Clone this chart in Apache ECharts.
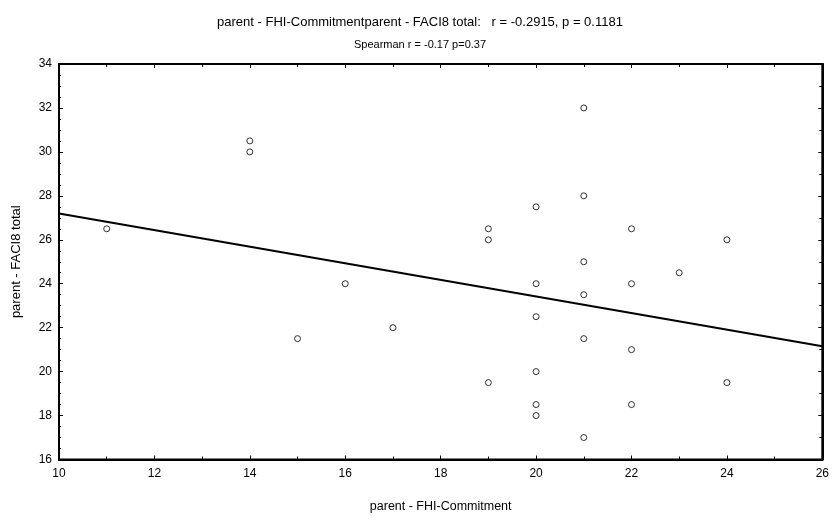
<!DOCTYPE html>
<html>
<head>
<meta charset="utf-8">
<script src="https://cdn.jsdelivr.net/npm/echarts@6/dist/echarts.min.js"></script>
<style>html,body{margin:0;padding:0;background:#fff}#c{width:832px;height:520px}</style>
</head>
<body>
<div id="c"></div>
<script>
const xValues = [11,14,14,15,16,17,19,19,19,20,20,20,20,20,20,21,21,21,21,21,21,22,22,22,22,23,24,24];
const yValues = [26.5,30.5,30,21.5,24,22,26.5,26,19.5,27.5,24,22.5,20,18.5,18,32,28,25,23.5,21.5,17,26.5,24,21,18.5,24.5,26,19.5];
const fitX = [10, 26];
const fitY = [27.2, 21.15];
const titleLine1 = 'parent - FHI-Commitmentparent - FACI8 total:   r = -0.2915, p = 0.1181';
const titleLine2 = 'Spearman r = -0.17 p=0.37';
const xName = 'parent - FHI-Commitment';
const yName = 'parent - FACI8 total';

const font = 'Liberation Sans, Arial, sans-serif';
const chart = echarts.init(document.getElementById('c'), null, {renderer: 'canvas'});
const pts = xValues.map((x, i) => [x, yValues[i]]);
const fit = fitX.map((x, i) => [x, fitY[i]]);
const axisLineStyle = {color: '#000', width: 2};
chart.setOption({
  animation: false,
  backgroundColor: '#fff',
  title: [
    {text: titleLine1, left: 415, top: 11, textAlign: 'center',
     textStyle: {fontFamily: font, fontSize: 13, fontWeight: 'normal', color: '#000'}},
    {text: titleLine2, left: 415, top: 34, textAlign: 'center',
     textStyle: {fontFamily: font, fontSize: 11, fontWeight: 'normal', color: '#000'}}
  ],
  grid: {left: 59, right: 7, top: 64, bottom: 60.5, show: true, borderColor: '#000', borderWidth: 2, containLabel: false},
  xAxis: [{
    type: 'value', min: 10, max: 26, interval: 2,
    name: xName, nameLocation: 'middle', nameGap: 41,
    nameTextStyle: {fontFamily: font, fontSize: 12.5, color: '#000'},
    axisLine: {show: true, lineStyle: axisLineStyle},
    axisTick: {show: true, inside: true, length: 4, lineStyle: {color: '#000'}},
    minorTick: {show: true, splitNumber: 2, length: 3, lineStyle: {color: '#000'}},
    axisLabel: {fontFamily: font, fontSize: 12, color: '#000', margin: 8},
    splitLine: {show: false}
  }, {
    type: 'value', min: 10, max: 26, interval: 2, position: 'top',
    axisLine: {show: true, lineStyle: axisLineStyle},
    axisTick: {show: true, inside: true, length: 4, lineStyle: {color: '#000'}},
    minorTick: {show: true, splitNumber: 2, length: 3, lineStyle: {color: '#000'}},
    axisLabel: {show: false}, splitLine: {show: false}
  }],
  yAxis: [{
    type: 'value', min: 16, max: 34, interval: 2,
    name: yName, nameLocation: 'middle', nameGap: 36, nameRotate: 90,
    nameTextStyle: {fontFamily: font, fontSize: 13, color: '#000'},
    axisLine: {show: true, lineStyle: axisLineStyle},
    axisTick: {show: true, inside: true, length: 4, lineStyle: {color: '#000'}},
    minorTick: {show: true, splitNumber: 4, length: 2, lineStyle: {color: '#000'}},
    axisLabel: {fontFamily: font, fontSize: 12, color: '#000', margin: 7},
    splitLine: {show: false}
  }, {
    type: 'value', min: 16, max: 34, interval: 2, position: 'right',
    axisLine: {show: true, lineStyle: axisLineStyle},
    axisTick: {show: true, inside: true, length: 4, lineStyle: {color: '#000'}},
    minorTick: {show: true, splitNumber: 2, length: 3, lineStyle: {color: '#000'}},
    axisLabel: {show: false}, splitLine: {show: false}
  }],
  series: [{
    type: 'line', data: fit, symbol: 'none', silent: true,
    lineStyle: {color: '#000', width: 2}, z: 2
  }, {
    type: 'scatter', data: pts, symbol: 'circle', symbolSize: 6,
    itemStyle: {color: '#fff', borderColor: '#000', borderWidth: 1}, z: 3
  }]
});
</script>
</body>
</html>
